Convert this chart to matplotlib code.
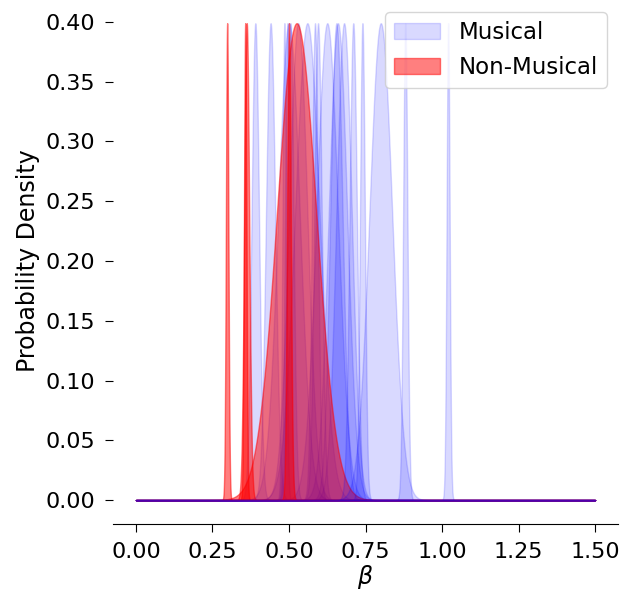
import numpy as np
import matplotlib
matplotlib.use("Agg")
import matplotlib.pyplot as plt

# posterior means / sds of beta per participant
musical_mu = [0.39, 0.44, 0.485, 0.495, 0.505, 0.50, 0.53, 0.56, 0.585, 0.595,
              0.625, 0.655, 0.66, 0.68, 0.71, 0.74, 0.80, 0.88, 1.02]
musical_sd = [0.012, 0.015, 0.006, 0.008, 0.010, 0.035, 0.030, 0.040, 0.010, 0.012,
              0.035, 0.020, 0.030, 0.025, 0.012, 0.008, 0.037, 0.007, 0.005]

nonmusical_mu = [0.298, 0.357, 0.362, 0.50, 0.525]
nonmusical_sd = [0.004, 0.004, 0.008, 0.006, 0.064]

# drawing order: groups interleaved, as they come in the data
order = ["m", "n", "m", "m", "n", "m", "m", "n", "m", "m", "m", "m",
         "m", "m", "n", "m", "m", "m", "n", "m", "m", "m", "m", "m"]

x = np.linspace(0, 1.5, 6001)


def density(mu, sd):
    return np.exp(-0.5 * ((x - mu) / sd) ** 2) / np.sqrt(2 * np.pi)


fig = plt.figure(figsize=(6.21, 5.93), dpi=100)
ax = fig.add_axes([113 / 621, 69 / 593, 505 / 621, 526 / 593])

im, inm = 0, 0
for g in order:
    if g == "m":
        ax.fill_between(x, density(musical_mu[im], musical_sd[im]), color="blue",
                        alpha=0.15, label="Musical" if im == 0 else None)
        im += 1
    else:
        ax.fill_between(x, density(nonmusical_mu[inm], nonmusical_sd[inm]), color="red",
                        alpha=0.5, label="Non-Musical" if inm == 0 else None)
        inm += 1

ax.set_ylim(-0.02, 0.42)
ax.set_xticks(np.arange(0, 1.51, 0.25))
ax.set_yticks(np.arange(0, 0.41, 0.05))
ax.tick_params(labelsize=16)
ax.tick_params(axis="y", length=6, pad=7)
ax.tick_params(axis="x", length=6, pad=7)
for side in ["left", "top", "right"]:
    ax.spines[side].set_visible(False)

ax.set_xlabel(r"$\beta$", fontsize=17, labelpad=1)
ax.set_ylabel("Probability Density", fontsize=17)
ax.legend(loc="upper right", fontsize=16.5, bbox_to_anchor=(607 / 621, 1 - 12 / 593),
          bbox_transform=fig.transFigure, borderaxespad=0)

fig.savefig("out.png", dpi=100)
